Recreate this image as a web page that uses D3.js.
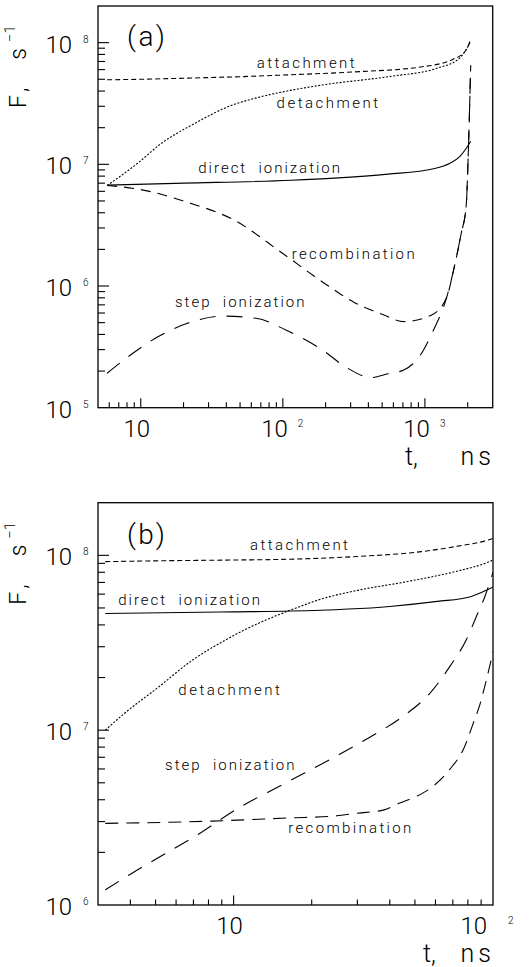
<!DOCTYPE html>
<html><head><meta charset="utf-8">
<script src="https://cdn.jsdelivr.net/npm/d3@7"></script>
<style>
html,body{margin:0;padding:0;background:#fff;}
svg{display:block;}
text{font-family:Roboto,"Liberation Sans",sans-serif;font-weight:300;fill:#000;white-space:pre;}
</style></head><body>
<svg id="chart" width="532" height="967"></svg>
<script>
// ---------------- DATA ----------------
// Panel (a)
const aXDomain = [5, 3000];
const aYDomain = [1e5, 2e8];
const aAttachT = [5.8, 10, 20, 50, 115, 320, 930, 1580, 1950, 2100];
const aAttachV = [4.95e7, 5.0e7, 5.1e7, 5.25e7, 5.45e7, 5.75e7, 6.3e7, 7.3e7, 8.7e7, 1.07e8];
const aDetachT = [5.8, 9.5, 14, 24, 41, 70, 113, 190, 550, 1210, 1750, 2100];
const aDetachV = [6.7e6, 1.02e7, 1.49e7, 2.17e7, 2.97e7, 3.59e7, 4.05e7, 4.49e7, 5.25e7, 6.15e7, 7.43e7, 1.02e8];
const aDirectT = [5.8, 20, 115, 230, 550, 1150, 1500, 1750, 1950, 2100];
const aDirectV = [6.75e6, 7.0e6, 7.4e6, 7.7e6, 8.3e6, 9.2e6, 1.02e7, 1.15e7, 1.35e7, 1.55e7];
const aRecombT = [5.8, 10, 21, 45, 100, 190, 320, 510, 710, 1090, 1420, 1580, 1800, 1950, 2030, 2100];
const aRecombV = [6.7e6, 6.2e6, 4.9e6, 3.5e6, 1.85e6, 1.08e6, 7.3e5, 5.8e5, 5.1e5, 5.7e5, 8.0e5, 1.3e6, 2.7e6, 4.5e6, 1.5e7, 6.5e7];
const aStepT = [5.8, 8.65, 13.2, 21.3, 38, 65, 105, 190, 275, 420, 550, 710, 930, 1150, 1420, 1580, 1800, 1950, 2030, 2100];
const aStepV = [1.92e5, 2.76e5, 3.83e5, 4.94e5, 5.66e5, 5.43e5, 4.35e5, 2.98e5, 2.17e5, 1.77e5, 1.9e5, 2.04e5, 2.71e5, 4.35e5, 8.0e5, 1.3e6, 2.7e6, 4.5e6, 1.5e7, 6.5e7];

// Panel (b)
const bXDomain = [3, 100];
const bYDomain = [1e6, 2e8];
const bAttachT = [3.2, 5, 10, 16.5, 30, 53, 71, 95, 100];
const bAttachV = [9.2e7, 9.3e7, 9.4e7, 9.5e7, 9.85e7, 1.05e8, 1.12e8, 1.22e8, 1.25e8];
const bDirectT = [3.2, 10, 16.5, 40, 61, 82, 95, 100];
const bDirectV = [4.65e7, 4.75e7, 4.8e7, 5.1e7, 5.45e7, 5.8e7, 6.35e7, 6.6e7];
const bDetachT = [3.2, 3.8, 5.1, 6.9, 9.2, 12.3, 16.5, 22, 30, 46, 71, 95, 100];
const bDetachV = [1.0e7, 1.25e7, 1.75e7, 2.5e7, 3.25e7, 4.05e7, 4.85e7, 5.65e7, 6.3e7, 7.05e7, 8.05e7, 9.1e7, 9.4e7];
const bStepT = [3.2, 4, 5.4, 7.5, 10, 15.5, 24, 33, 45, 57, 68, 79, 87, 93, 100];
const bStepV = [1.22e6, 1.5e6, 1.95e6, 2.6e6, 3.45e6, 4.9e6, 6.9e6, 9.0e6, 1.2e7, 1.62e7, 2.3e7, 3.3e7, 4.6e7, 5.8e7, 8.0e7];
const bRecombT = [3.2, 8.3, 16.5, 24, 30, 38, 44, 51, 58.5, 68, 77, 84, 89, 94, 100];
const bRecombV = [2.93e6, 3.02e6, 3.15e6, 3.22e6, 3.35e6, 3.5e6, 3.85e6, 4.2e6, 4.75e6, 5.95e6, 7.8e6, 1.1e7, 1.4e7, 1.9e7, 2.8e7];

// curve labels (anchored in data coordinates)
const aLabelText = ["attachment", "detachment", "direct  ionization", "recombination", "step  ionization"];
const aLabelT = [65.4, 90.4, 25.4, 115.3, 17.4];
const aLabelV = [6.15e7, 2.88e7, 8.43e6, 1.66e6, 6.72e5];
const bLabelText = ["attachment", "direct  ionization", "detachment", "step  ionization", "recombination"];
const bLabelT = [11.56, 3.59, 6.12, 5.44, 16.24];
const bLabelV = [1.07e8, 5.2e7, 1.59e7, 5.92e6, 2.57e6];

// ---------------- DRAWING ----------------
const svg = d3.select("#chart");
svg.append("rect").attr("width", 532).attr("height", 967).attr("fill", "#fff");

const labelWidth = {"attachment": 98, "detachment": 101.5, "direct  ionization": 141.7, "recombination": 123, "step  ionization": 129.5};
const dashStyle = {attachment: "5,3", detachment: "2,1.6", direct: null, recombination: "10,7", step: "16,11"};

function zip(ts, vs) { return ts.map((t, i) => ({t: t, v: vs[i]})); }

function drawPanel(cfg) {
  const x = d3.scaleLog().domain(cfg.xDomain).range([cfg.left, cfg.right]);
  const y = d3.scaleLog().domain(cfg.yDomain).range([cfg.bottom, cfg.top]);
  const g = svg.append("g");
  const isMajor = v => Math.abs(Math.log10(v) - Math.round(Math.log10(v))) < 1e-9;

  // curves
  const clipId = "clip" + cfg.name;
  svg.append("clipPath").attr("id", clipId).append("rect")
    .attr("x", cfg.left).attr("y", cfg.top)
    .attr("width", cfg.right - cfg.left).attr("height", cfg.bottom - cfg.top);
  const line = d3.line().x(d => x(d.t)).y(d => y(d.v)).curve(d3.curveMonotoneX);
  cfg.series.forEach(s => {
    g.append("path").datum(zip(s.t, s.v))
      .attr("d", line)
      .attr("fill", "none").attr("stroke", "#000").attr("stroke-width", 1.1)
      .attr("stroke-dasharray", s.dash)
      .attr("clip-path", "url(#" + clipId + ")");
  });

  // frame
  g.append("rect").attr("x", cfg.left).attr("y", cfg.top)
    .attr("width", cfg.right - cfg.left).attr("height", cfg.bottom - cfg.top)
    .attr("fill", "none").attr("stroke", "#000").attr("stroke-width", 1.3);

  // x ticks (inward from bottom)
  x.ticks().forEach(v => {
    const px = x(v);
    if (px < cfg.left + 0.5 || px > cfg.right - 0.5) return;
    const len = isMajor(v) ? 9.5 : 5.5;
    g.append("line").attr("x1", px).attr("x2", px).attr("y1", cfg.bottom).attr("y2", cfg.bottom - len)
      .attr("stroke", "#000").attr("stroke-width", 1.1);
  });
  // y ticks (inward from left)
  y.ticks().forEach(v => {
    const py = y(v);
    if (py < cfg.top + 0.5 || py > cfg.bottom - 0.5) return;
    const len = isMajor(v) ? 11 : 7;
    g.append("line").attr("x1", cfg.left).attr("x2", cfg.left + len).attr("y1", py).attr("y2", py)
      .attr("stroke", "#000").attr("stroke-width", 1.1);
  });

  // x tick labels
  x.ticks().filter(isMajor).forEach(v => {
    const e = Math.round(Math.log10(v));
    const px = x(v);
    const base = cfg.bottom + 29;
    if (e === 1) {
      g.append("text").attr("x", px - 4).attr("y", base).attr("text-anchor", "middle")
        .attr("font-size", 24).text("10");
    } else {
      const right = Math.min(px + 5, cfg.right - 6);
      g.append("text").attr("x", right).attr("y", base).attr("text-anchor", "end")
        .attr("font-size", 24).text("10");
      g.append("text").attr("x", px + 15).attr("y", base - 10).attr("text-anchor", "start")
        .attr("font-size", 10).text(String(e));
    }
  });
  // y tick labels
  y.ticks().filter(isMajor).forEach(v => {
    const e = Math.round(Math.log10(v));
    const py = y(v);
    const base = py + 10;
    g.append("text").attr("x", cfg.left - 26).attr("y", base).attr("text-anchor", "end")
      .attr("font-size", 24).text("10");
    g.append("text").attr("x", cfg.left - 15).attr("y", base - 10).attr("text-anchor", "start")
      .attr("font-size", 10).text(String(e));
  });

  // curve labels
  cfg.labels.forEach(l => {
    g.append("text").attr("x", x(l.t)).attr("y", y(l.v))
      .attr("font-size", 15)
      .attr("textLength", labelWidth[l.text]).attr("lengthAdjust", "spacing")
      .text(l.text);
  });

  // panel letter
  g.append("text").attr("x", cfg.left + 29).attr("y", cfg.top + cfg.letterDy)
    .attr("font-size", 28).attr("textLength", 38).attr("lengthAdjust", "spacing")
    .text("(" + cfg.name + ")");

  // x title
  g.append("text").attr("x", cfg.titleX0).attr("y", cfg.bottom + 57)
    .attr("font-size", 25).text("t,");
  g.append("text").attr("x", 495).attr("y", cfg.bottom + 57).attr("text-anchor", "end")
    .attr("font-size", 25).attr("letter-spacing", 4).text("ns");

  // y title (rotated)
  const yt = g.append("g").attr("transform", "translate(26," + (cfg.top + 102) + ") rotate(-90)");
  yt.append("text").attr("x", 0).attr("y", 0).attr("font-size", 23)
    .attr("textLength", 60).attr("lengthAdjust", "spacing").text("F,  s");
  yt.append("text").attr("x", 66).attr("y", -11).attr("font-size", 15).text("\u22121");
}

drawPanel({
  name: "a", left: 98, right: 492.7, top: 6, bottom: 407.7,
  xDomain: aXDomain, yDomain: aYDomain, letterDy: 40, titleX0: 405,
  series: [
    {t: aAttachT, v: aAttachV, dash: dashStyle.attachment},
    {t: aDetachT, v: aDetachV, dash: dashStyle.detachment},
    {t: aDirectT, v: aDirectV, dash: dashStyle.direct},
    {t: aRecombT, v: aRecombV, dash: dashStyle.recombination},
    {t: aStepT, v: aStepV, dash: dashStyle.step}
  ],
  labels: aLabelText.map((s, i) => ({text: s, t: aLabelT[i], v: aLabelV[i]}))
});

drawPanel({
  name: "b", left: 98, right: 493, top: 502.7, bottom: 905,
  xDomain: bXDomain, yDomain: bYDomain, letterDy: 41, titleX0: 423,
  series: [
    {t: bAttachT, v: bAttachV, dash: dashStyle.attachment},
    {t: bDetachT, v: bDetachV, dash: dashStyle.detachment},
    {t: bDirectT, v: bDirectV, dash: dashStyle.direct},
    {t: bRecombT, v: bRecombV, dash: "13,8"},
    {t: bStepT, v: bStepV, dash: dashStyle.step}
  ],
  labels: bLabelText.map((s, i) => ({text: s, t: bLabelT[i], v: bLabelV[i]}))
});
</script>
</body></html>
